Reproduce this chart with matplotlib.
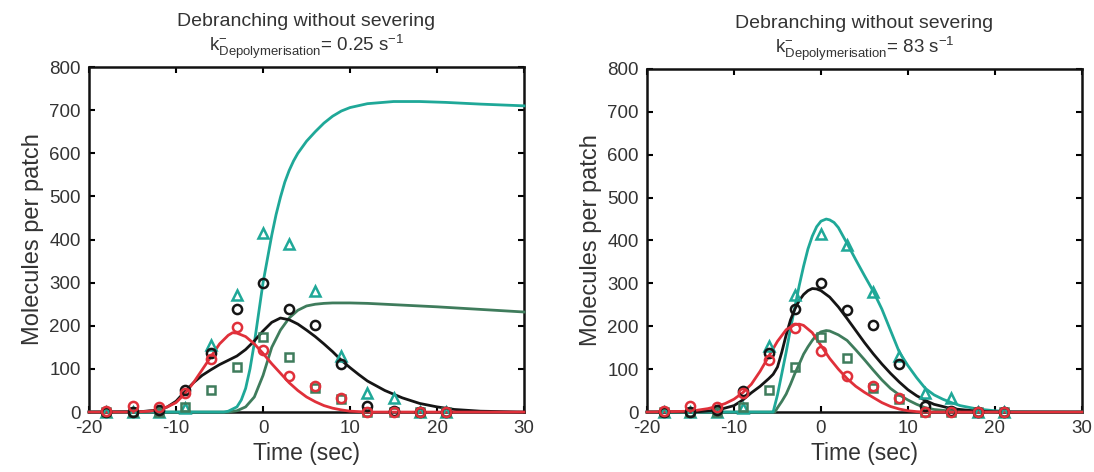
import matplotlib
matplotlib.use("Agg")
import matplotlib.pyplot as plt

plt.rcParams['font.family'] = ['Liberation Sans', 'DejaVu Sans']
plt.rcParams['mathtext.fontset'] = 'custom'
plt.rcParams['mathtext.rm'] = 'Liberation Sans'
plt.rcParams['mathtext.it'] = 'Liberation Sans:italic'
plt.rcParams['mathtext.bf'] = 'Liberation Sans:bold'
plt.rcParams['axes.unicode_minus'] = False

# ---------------- data ----------------
titles = ["Debranching without severing", "Debranching without severing"]
rate_labels = ["0.25", "83"]

t_obs = [-18, -15, -12, -9, -6, -3, 0, 3, 6, 9, 12, 15, 18, 21]
black_obs = [0, 0, 5, 50, 138, 240, 300, 238, 202, 111, 15, 3, 0, 0]
red_obs = [3, 15, 12, 45, 122, 197, 143, 84, 60, 33, 0, 0, 0, 0]
teal_obs = [0, 0, 0, 10, 155, 272, 415, 390, 280, 130, 45, 33, 0, 0]
green_obs = [0, 0, 0, 12, 52, 105, 175, 127, 55, 30, 0, 0, 0, 0]

# left panel model curves (k = 0.25 s^-1)
teal_L_t = [-20, -4.5, -4, -3, -2.5, -2, -1.5, -1, -0.5, 0, 0.5, 1, 1.5, 2, 2.5, 3, 3.5, 4, 5, 6,
            7, 8, 9, 10, 12, 15, 18, 21, 25, 30]
teal_L_v = [0, 0, 2, 12, 28, 55, 100, 160, 230, 300, 355, 410, 458, 498, 533, 560, 582, 600, 628,
            650, 670, 686, 698, 706, 715, 720, 720, 718, 714, 710]
green_L_t = [-20, -4, -3, -2, -1, 0, 1, 2, 3, 4, 5, 6, 7, 8, 10, 12, 15, 20, 25, 30]
green_L_v = [0, 0, 3, 12, 35, 85, 150, 190, 218, 236, 246, 250, 252, 253, 253, 252, 249, 244, 238, 232]
black_L_t = [-20, -14, -12, -11, -10, -9, -8, -7, -6, -5, -4, -3, -2, -1, 0, 1, 2, 3, 4, 5, 6, 7,
             8, 9, 10, 11, 12, 14, 16, 18, 20, 22, 25, 30]
black_L_v = [0, 1, 5, 12, 25, 47, 68, 85, 98, 110, 120, 130, 145, 165, 188, 208, 218, 214, 204,
             190, 175, 158, 140, 120, 103, 87, 72, 50, 33, 20, 12, 6, 2, 0]
red_L_t = [-20, -15, -13, -12, -11, -10, -9, -8, -7, -6, -5, -4, -3.5, -3, -2, -1, 0, 1, 2, 3, 4,
           5, 6, 7, 8, 9, 10, 12, 30]
red_L_v = [0, 0, 2, 5, 12, 22, 42, 68, 98, 128, 158, 178, 184, 183, 175, 158, 136, 112, 90, 68, 50,
           35, 24, 15, 9, 5, 2, 0, 0]

# right panel model curves (k = 83 s^-1)
teal_R_t = [-20, -5.5, -5, -4.5, -4, -3.5, -3, -2.5, -2, -1.5, -1, -0.5, 0, 0.6, 1, 1.5, 2, 3, 4,
            5, 6, 7, 8, 9, 10, 11, 12, 13, 14, 15, 16, 18, 20, 22, 30]
teal_R_v = [0, 0, 40, 90, 140, 195, 245, 295, 340, 380, 410, 432, 445, 450, 448, 442, 430, 393,
            355, 318, 282, 240, 190, 140, 108, 80, 55, 40, 30, 22, 15, 7, 3, 1, 0]
green_R_t = [-20, -5.3, -5, -4.5, -4, -3.5, -3, -2.5, -2, -1.5, -1, -0.5, 0, 0.6, 1, 2, 3, 4, 5, 6,
             7, 8, 9, 10, 11, 12, 13, 15, 18, 30]
green_R_v = [0, 0, 10, 25, 42, 65, 90, 112, 135, 152, 167, 180, 187, 190, 189, 180, 167, 145, 122,
             98, 75, 55, 40, 28, 18, 10, 6, 2, 0, 0]
black_R_t = [-20, -14, -12, -10, -9, -8, -7, -6, -5.5, -5, -4.5, -4, -3.5, -3, -2.5, -2, -1.5, -1,
             -0.5, 0, 1, 2, 3, 4, 5, 6, 7, 8, 9, 10, 11, 12, 13, 15, 18, 21, 30]
black_R_v = [0, 1, 4, 15, 28, 45, 60, 78, 88, 105, 140, 180, 215, 240, 260, 274, 283, 288, 287,
             283, 268, 245, 218, 190, 162, 136, 112, 90, 70, 52, 38, 27, 18, 8, 2, 0, 0]
red_R_t = [-20, -15, -13, -12, -11, -10, -9, -8, -7, -6, -5, -4, -3, -2.5, -2, -1, 0, 1, 2, 3, 4,
           5, 6, 7, 8, 9, 10, 11, 12, 30]
red_R_v = [0, 2, 8, 13, 20, 30, 45, 65, 95, 130, 165, 192, 204, 205, 202, 185, 155, 125, 100, 78,
           60, 46, 34, 22, 13, 7, 3, 1, 0, 0]

x_ticks = [-20, -10, 0, 10, 20, 30]
y_ticks = [0, 100, 200, 300, 400, 500, 600, 700, 800]

# ---------------- style ----------------
C_TEAL = '#1fa898'
C_GREEN = '#3f7c5c'
C_BLACK = '#151515'
C_RED = '#e0303a'
TXT = '#333333'

fig = plt.figure(figsize=(10.94, 4.72), dpi=100)
ax_l = fig.add_axes([0.0814, 0.127, 0.3976, 0.731])
ax_r = fig.add_axes([0.5914, 0.127, 0.3976, 0.727])

panels = [
    (ax_l, (teal_L_t, teal_L_v), (green_L_t, green_L_v), (black_L_t, black_L_v), (red_L_t, red_L_v)),
    (ax_r, (teal_R_t, teal_R_v), (green_R_t, green_R_v), (black_R_t, black_R_v), (red_R_t, red_R_v)),
]

for i, (ax, teal, green, black, red) in enumerate(panels):
    lw = 2.0
    ax.plot(*green, color=C_GREEN, lw=lw, zorder=3, clip_on=False)
    ax.plot(*teal, color=C_TEAL, lw=lw, zorder=3, clip_on=False)
    ax.plot(*black, color=C_BLACK, lw=lw, zorder=3, clip_on=False)
    ax.plot(*red, color=C_RED, lw=lw, zorder=3.5, clip_on=False)

    ms = 6.6
    mew = 1.8
    ax.plot(t_obs, teal_obs, ls='none', marker='^', ms=ms, mfc='none', mec=C_TEAL, mew=mew,
            zorder=4, clip_on=False)
    ax.plot(t_obs, green_obs, ls='none', marker='s', ms=ms - 1.2, mfc='none', mec=C_GREEN, mew=mew,
            zorder=4, clip_on=False)
    ax.plot(t_obs, black_obs, ls='none', marker='o', ms=ms, mfc='none', mec=C_BLACK, mew=mew,
            zorder=4, clip_on=False)
    ax.plot(t_obs, red_obs, ls='none', marker='o', ms=ms, mfc='none', mec=C_RED, mew=mew,
            zorder=4.5, clip_on=False)

    ax.set_xlim(-20, 30)
    ax.set_ylim(0, 800)
    ax.set_xticks(x_ticks)
    ax.set_yticks(y_ticks)
    ax.tick_params(direction='in', top=True, right=True, length=4, width=1.5,
                   labelsize=13.5, labelcolor=TXT, pad=6)
    for sp in ax.spines.values():
        sp.set_linewidth(1.8)
        sp.set_color('#111111')

    ax.set_xlabel('Time (sec)', fontsize=16.5, color=TXT, labelpad=3)
    ax.set_ylabel('Molecules per patch', fontsize=17, color=TXT, labelpad=4)

    ax.text(0.5, 1.118, titles[i], transform=ax.transAxes, ha='center', va='baseline',
            fontsize=14, color=TXT)
    ax.text(0.5, 1.045,
            r'$\mathregular{k^{-}_{Depolymerisation}}$= ' + rate_labels[i] + r' s$^{\mathregular{-1}}$',
            transform=ax.transAxes, ha='center', va='baseline', fontsize=13.5, color=TXT)

fig.savefig('out.png', dpi=100, facecolor='white')
